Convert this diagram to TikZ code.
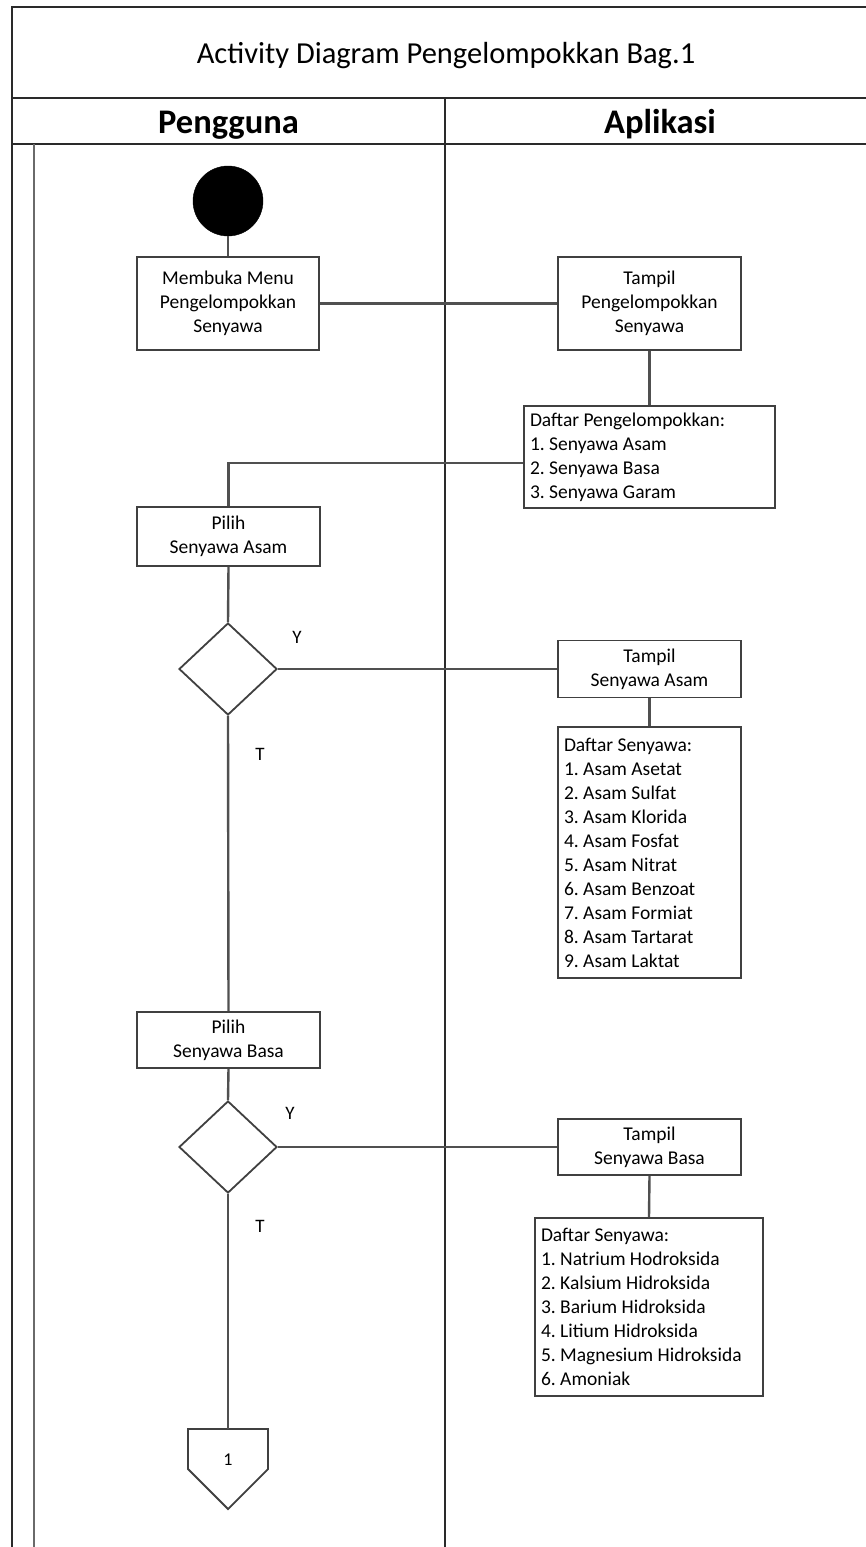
\documentclass[tikz,border=0pt]{standalone}
\usepackage{fontspec}
\setmainfont{Carlito}
\usetikzlibrary{shapes.geometric}
\definecolor{framec}{HTML}{2A2A2A}
\definecolor{lanec}{HTML}{6A6A6A}
\definecolor{edgec}{HTML}{404040}
\definecolor{flowc}{HTML}{505050}
\frenchspacing
\begin{document}
\begin{tikzpicture}[x=1pt,y=-1pt,
  frameline/.style={draw=framec, line width=2pt},
  laneline/.style={draw=lanec, line width=2pt},
  boxtext/.style={font=\fontsize{19.5}{24}\selectfont},
  act/.style={boxtext, draw=edgec, line width=1.8pt, fill=white, rectangle,
    align=center, inner sep=0pt},
  listbox/.style={boxtext, draw=edgec, line width=1.8pt, fill=white, rectangle,
    align=flush left, inner xsep=6pt, inner ysep=0pt},
  decision/.style={draw=edgec, line width=1.8pt, fill=white, diamond,
    inner sep=0pt, minimum width=98pt, minimum height=92pt},
  flow/.style={draw=flowc, line width=2.4pt},
  guard/.style={font=\fontsize{19}{21}\selectfont},
  heading/.style={font=\fontsize{34.5}{38}\selectfont\bfseries, anchor=base}]

% page
\path[use as bounding box, fill=white] (0,0) rectangle (866,1547);

% swimlane frame
\draw[frameline] (12,1560) -- (12,7) -- (880,7);
\draw[frameline] (12,98) -- (880,98);
\draw[frameline] (12,144) -- (880,144);
\draw[frameline] (445,98) -- (445,1560);
\draw[laneline] (34,144) -- (34,1560);

\node[font=\fontsize{30.5}{34}\selectfont] (title) at (446,56) {Activity Diagram Pengelompokkan Bag.1};
\node[heading] (laneA) at (228.5,133) {Pengguna};
\node[heading] (laneB) at (660,133) {Aplikasi};

% activities
\node[circle, fill=black, draw=black, minimum size=70pt, inner sep=0pt] (start) at (228,201) {};
\node[act, minimum width=182pt, minimum height=93pt] (memb) at (228,303.5)
  {Membuka Menu\\Pengelompokkan\\Senyawa};
\node[act, minimum width=183pt, minimum height=93pt] (tpeng) at (649.5,303.5)
  {Tampil\\Pengelompokkan\\Senyawa};
\node[listbox, text width=239pt, minimum height=102pt] (dpeng) at (649.5,457)
  {Daftar Pengelompokkan:\\1. Senyawa Asam\\2. Senyawa Basa\\3. Senyawa Garam};

\node[act, minimum width=183pt, minimum height=59pt] (pilA) at (228.5,536.5)
  {Pilih\\Senyawa Asam};
\node[decision] (dia1) at (228,669) {};
\node[guard] (y1) at (297,637) {Y};
\node[guard] (t1) at (260,754) {T};
\node[act, minimum width=183pt, minimum height=57pt] (tasam) at (649.5,669)
  {Tampil\\Senyawa Asam};
\node[listbox, text width=171pt, minimum height=251pt] (dasam) at (649.5,852.5)
  {Daftar Senyawa:\\1. Asam Asetat\\2. Asam Sulfat\\3. Asam Klorida\\4. Asam Fosfat\\5. Asam Nitrat\\6. Asam Benzoat\\7. Asam Formiat\\8. Asam Tartarat\\9. Asam Laktat};

\node[act, minimum width=183pt, minimum height=56pt] (pilB) at (228.5,1040)
  {Pilih\\Senyawa Basa};
\node[decision] (dia2) at (228,1147) {};
\node[guard] (y2) at (290,1113) {Y};
\node[guard] (t2) at (260,1226) {T};
\node[act, minimum width=183pt, minimum height=56pt] (tbasa) at (649.5,1147)
  {Tampil\\Senyawa Basa};
\node[listbox, text width=216pt, minimum height=178pt] (dbasa) at (649,1307)
  {Daftar Senyawa:\\1. Natrium Hodroksida\\2. Kalsium Hidroksida\\3. Barium Hidroksida\\4. Litium Hidroksida\\5. Magnesium Hidroksida\\6. Amoniak};

% off-page connector
\coordinate (offtop) at (228,1429);
\draw[draw=edgec, line width=1.8pt, fill=white, line join=miter]
  (188,1429) -- (268,1429) -- (268,1469) -- (228,1509) -- (188,1469) -- cycle;
\node[font=\fontsize{18}{20}\selectfont] (offlbl) at (228,1460) {1};

% control flow
\draw[flow] (start.south) -- (memb.north);
\draw[flow] (memb.east) -- (tpeng.west);
\draw[flow] (tpeng.south) -- (dpeng.north);
\draw[flow] ([yshift=-6pt]dpeng.west) -| (pilA.north);
\draw[flow] (pilA.south) -- (dia1.north);
\draw[flow] (dia1.east) -- (tasam.west);
\draw[flow] (tasam.south) -- (dasam.north);
\draw[flow] (dia1.south) -- (pilB.north);
\draw[flow] (pilB.south) -- (dia2.north);
\draw[flow] (dia2.east) -- (tbasa.west);
\draw[flow] (tbasa.south) -- (dbasa.north);
\draw[flow] (dia2.south) -- (offtop);
\end{tikzpicture}
\end{document}
